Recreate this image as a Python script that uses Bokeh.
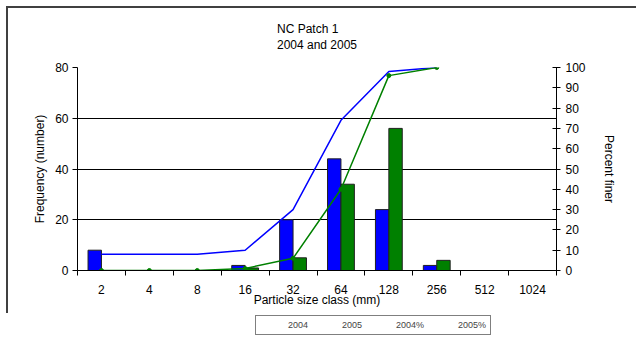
from bokeh.plotting import figure
from bokeh.layouts import column
from bokeh.models import (FixedTicker, LinearAxis, Range1d, Legend, LegendItem,
                          Title, ColumnDataSource)
from bokeh.transform import dodge
from bokeh.embed import file_html
from bokeh.resources import INLINE

# ---- data ----
categories = ["2", "4", "8", "16", "32", "64", "128", "256", "512", "1024"]
freq_2004 = [8, 0, 0, 2, 20, 44, 24, 2, 0, 0]
freq_2005 = [0, 0, 0, 1, 5, 34, 56, 4, 0, 0]
pct_2004 = [8, 8, 8, 10, 30, 74, 98, 100]
pct_2005 = [0, 0, 0, 1, 6, 40, 96, 100]
left_ticks = [0, 20, 40, 60, 80]
right_ticks = [0, 10, 20, 30, 40, 50, 60, 70, 80, 90, 100]
title_lines = ["NC Patch 1", "2004 and 2005"]
series_names = ["2004", "2005", "2004%", "2005%"]

FONT = "Liberation Sans"
BLUE = "#0000FF"
GREEN = "#008000"
EDGE = "#202020"

n = len(categories)
centers = [i + 0.5 for i in range(n)]
bounds = [float(i) for i in range(n + 1)]

FL, FR, FT, FB = 69, 82, 59, 45

p = figure(frame_width=477, frame_height=201,
           x_range=Range1d(0, n), y_range=Range1d(0, 80),
           output_backend="svg", toolbar_location=None,
           min_border_left=FL, min_border_right=FR,
           min_border_top=FT, min_border_bottom=FB)
p.stylesheets = [":host { margin-left: 6px; margin-top: 6px; "
                 "border-left: 2px solid #404040; border-top: 2px solid #404040; }"]
p.outline_line_color = None
p.background_fill_color = "white"
p.border_fill_color = "white"

p.extra_y_ranges = {"pct": Range1d(0, 100)}

# bars
src = ColumnDataSource(dict(x=centers, f2004=freq_2004, f2005=freq_2005, cat=categories))
bw = 0.28
p.vbar(x=dodge("x", -bw / 2), top="f2004", width=bw, source=src,
       fill_color=BLUE, line_color=EDGE, line_width=1)
p.vbar(x=dodge("x", bw / 2), top="f2005", width=bw, source=src,
       fill_color=GREEN, line_color=EDGE, line_width=1)

# cumulative lines
p.line(centers[:len(pct_2004)], pct_2004, y_range_name="pct",
       line_color=BLUE, line_width=1.5)
p.line(centers[:len(pct_2005)], pct_2005, y_range_name="pct",
       line_color=GREEN, line_width=1.5)
p.scatter(centers[:len(pct_2005)], pct_2005, y_range_name="pct",
          marker="circle", size=4, fill_color=GREEN, line_color=GREEN)

# axes
xa = p.xaxis[0]
xa.ticker = FixedTicker(ticks=centers, minor_ticks=bounds)
xa.major_label_overrides = {c: lab for c, lab in zip(centers, categories)}
xa.major_tick_out = 0
xa.major_tick_in = 0
xa.minor_tick_out = 5
xa.minor_tick_in = 0
xa.minor_tick_line_color = "black"
xa.axis_line_color = "black"
xa.major_label_standoff = 9
xa.major_label_text_font = FONT
xa.major_label_text_font_size = "12px"
xa.major_label_text_color = "black"
xa.axis_label = "Particle size class (mm)"
xa.axis_label_standoff = -4
xa.axis_label_text_font = FONT
xa.axis_label_text_font_size = "12px"
xa.axis_label_text_font_style = "normal"
xa.axis_label_text_color = "black"

ya = p.yaxis[0]
ya.ticker = FixedTicker(ticks=left_ticks)
ya.major_tick_out = 5
ya.major_tick_in = 0
ya.minor_tick_line_color = None
ya.major_tick_line_color = "black"
ya.axis_line_color = "black"
ya.major_label_standoff = 4
ya.major_label_text_font = FONT
ya.major_label_text_font_size = "12px"
ya.major_label_text_color = "black"
ya.axis_label = "Frequency (number)"
ya.axis_label_standoff = 5
ya.axis_label_text_font = FONT
ya.axis_label_text_font_size = "12px"
ya.axis_label_text_font_style = "normal"
ya.axis_label_text_color = "black"

ra = LinearAxis(y_range_name="pct", ticker=FixedTicker(ticks=right_ticks))
ra.major_tick_out = 4
ra.major_tick_in = 4
ra.minor_tick_line_color = None
ra.major_tick_line_color = "black"
ra.axis_line_color = "black"
ra.major_label_standoff = 5
ra.major_label_text_font = FONT
ra.major_label_text_font_size = "12px"
ra.major_label_text_color = "black"
ra.axis_label = "Percent finer"
ra.axis_label_standoff = 13
ra.axis_label_text_font = FONT
ra.axis_label_text_font_size = "12px"
ra.axis_label_text_font_style = "normal"
ra.axis_label_text_color = "black"
p.add_layout(ra, "right")

p.xgrid.visible = False
p.ygrid.ticker = FixedTicker(ticks=left_ticks[1:])
p.ygrid.grid_line_color = "black"
p.ygrid.grid_line_width = 1

# spacer (closest to frame), then the two-line title above it
p.add_layout(Title(text=" ", text_font_size="2px", standoff=8), "above")
p.add_layout(Title(text="\n".join(title_lines), align="center", text_font=FONT,
                   text_font_size="12px", text_font_style="normal",
                   text_line_height=1.16, text_color="black", standoff=7), "above")

# ---- legend strip (separate small figure below the chart) ----
lf = figure(width=636, height=38, x_range=Range1d(0, 1), y_range=Range1d(0, 1),
            output_backend="svg", toolbar_location=None,
            x_axis_location=None, y_axis_location=None,
            min_border_left=0, min_border_right=0,
            min_border_top=0, min_border_bottom=0)
lf.grid.visible = False
lf.outline_line_color = None
lf.background_fill_color = "white"
lf.border_fill_color = "white"

k1 = lf.vbar(x=[], top=[], width=0.1, fill_color=BLUE, line_color=EDGE, line_width=1)
k2 = lf.vbar(x=[], top=[], width=0.1, fill_color=GREEN, line_color=EDGE, line_width=1)
k3 = lf.line(x=[], y=[], line_color=BLUE, line_width=1.5)
k4 = lf.line(x=[], y=[], line_color=GREEN, line_width=1.5)
k5 = lf.scatter(x=[], y=[], marker="circle", size=4, fill_color=GREEN, line_color=GREEN)

legend = Legend(items=[LegendItem(label=series_names[0], renderers=[k1]),
                       LegendItem(label=series_names[1], renderers=[k2]),
                       LegendItem(label=series_names[2], renderers=[k3]),
                       LegendItem(label=series_names[3], renderers=[k4, k5])],
                location=(186, 16), orientation="horizontal",
                glyph_width=26, glyph_height=6, label_standoff=2, spacing=6,
                padding=4, margin=0, label_height=8, label_width=10,
                label_text_font=FONT, label_text_font_size="9px",
                border_line_color="black", border_line_width=1,
                background_fill_color="white", background_fill_alpha=1)
lf.add_layout(legend)

layout = column(p, lf, spacing=0)
open("out.html", "w").write(file_html(layout, INLINE))
